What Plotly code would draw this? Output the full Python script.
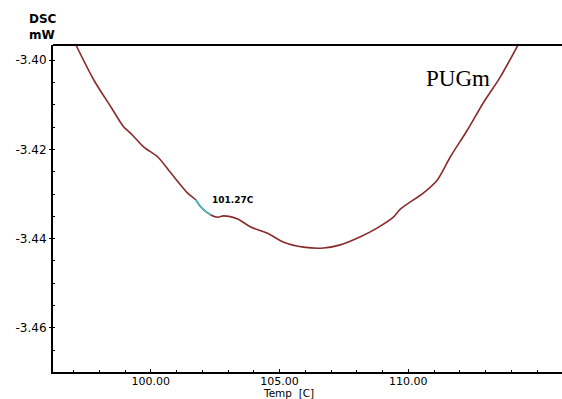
import plotly.graph_objects as go
import numpy as np

# Data
temp = [97.09, 97.79, 98.45, 98.95, 99.22, 99.73, 100.27, 100.78, 101.43, 101.74, 101.94,
        102.33, 102.60, 102.83, 103.37, 103.88, 104.53, 105.16, 105.93, 106.71, 107.36,
        108.14, 108.80, 109.42, 109.69, 110.58, 111.12, 111.63, 112.29, 112.91, 113.57, 114.26]
dsc = [-3.3966, -3.4045, -3.4105, -3.4150, -3.4164, -3.4195, -3.4217, -3.4253, -3.4298, -3.4313, -3.4329,
       -3.4347, -3.4352, -3.4349, -3.4356, -3.4374, -3.4388, -3.4408, -3.4419, -3.4421, -3.4414,
       -3.4396, -3.4376, -3.4352, -3.4334, -3.4298, -3.4269, -3.4217, -3.4157, -3.4096, -3.4038, -3.3966]
onset_range = [101.74, 102.45]
onset_label = "101.27C"
sample_label = "PUGm"
x_ticks = [100, 105, 110]
y_ticks = [-3.40, -3.42, -3.44, -3.46]

t = np.array(temp)
d = np.array(dsc)
mask = (t >= onset_range[0]) & (t <= onset_range[1])

fig = go.Figure()
fig.add_trace(go.Scatter(x=temp, y=dsc, mode="lines",
                         line=dict(color="#8a2b2b", width=1.6, shape="spline", smoothing=0.8),
                         showlegend=False))
fig.add_trace(go.Scatter(x=t[mask], y=d[mask], mode="lines",
                         line=dict(color="#3cc4cc", width=1.6, shape="spline", smoothing=0.8),
                         showlegend=False))

SANS = "DejaVu Sans, Verdana, sans-serif"
fig.update_layout(
    width=562, height=399,
    margin=dict(l=53, r=0, t=45, b=27),
    paper_bgcolor="white", plot_bgcolor="white",
    xaxis=dict(range=[96.2, 115.97], tickvals=x_ticks,
               ticktext=[f"{v:.2f}" for v in x_ticks],
               showgrid=False, zeroline=False, showline=True, linecolor="black", linewidth=2,
               ticks="inside", ticklen=3, tickcolor="black", ticklabelstandoff=-2,
               tickfont=dict(family=SANS, size=11, color="black"),
               minor=dict(dtick=1, ticks="inside", ticklen=2, tickcolor="black")),
    yaxis=dict(range=[-3.4699, -3.3966], tickvals=y_ticks,
               ticktext=[f"{v:.2f}" for v in y_ticks],
               showgrid=False, zeroline=False, showline=True, linecolor="black", linewidth=2,
               ticks="outside", ticklen=2, tickcolor="black",
               tickfont=dict(family=SANS, size=12, color="black"),
               minor=dict(dtick=0.005, ticks="inside", ticklen=2, tickcolor="black")),
    shapes=[dict(type="line", xref="paper", yref="paper", x0=0, x1=1, y0=1, y1=1,
                 line=dict(color="black", width=2))],
    annotations=[
        dict(text="<b>DSC</b>", xref="paper", yref="paper", x=(27 - 53) / 509, y=1.0, yshift=26,
             xanchor="left", yanchor="middle", showarrow=False,
             font=dict(family=SANS, size=12, color="black")),
        dict(text="<b>mW</b>", xref="paper", yref="paper", x=(27 - 53) / 509, y=1.0, yshift=10,
             xanchor="left", yanchor="middle", showarrow=False,
             font=dict(family=SANS, size=12, color="black")),
        dict(text="Temp  [C]", xref="paper", yref="paper", x=(288 - 53) / 509, y=0, yshift=-21,
             xanchor="center", yanchor="middle", showarrow=False,
             font=dict(family=SANS, size=10.5, color="black")),
        dict(text="<b>" + onset_label + "</b>", x=103.18, y=-3.4314, showarrow=False,
             xanchor="center", yanchor="middle",
             font=dict(family=SANS, size=9, color="black")),
        dict(text=sample_label, x=111.94, y=-3.4040, showarrow=False,
             xanchor="center", yanchor="middle",
             font=dict(family="Liberation Serif, Times New Roman, serif", size=23, color="black")),
    ],
)
fig.write_html("out.html")
